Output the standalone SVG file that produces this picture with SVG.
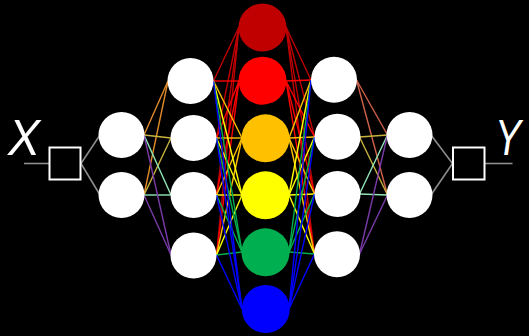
<svg xmlns="http://www.w3.org/2000/svg" width="529" height="336" viewBox="0 0 529 336">
<style>
.bg{fill:#000}
.n{fill:#fff}
.box{fill:none;stroke:#fff;stroke-width:2}
.e{stroke-width:1.4;fill:none}
.gr{stroke:#8c8c8c;stroke-width:1.6}
.c1{stroke:#e08a2a}.c2{stroke:#c8b43c}.c3{stroke:#90e8b8}.c4{stroke:#7a3aa8}.c0{stroke:#d0604a}
.dr{stroke:#c00000}.rd{stroke:#ff0000}.or{stroke:#ffc000}.ye{stroke:#ffff00}.gn{stroke:#00b050}.bl{stroke:#0000ff}
.lbl{font-family:"Liberation Sans",Arial,sans-serif;font-style:italic;font-size:50px;fill:#fff}
</style>
<rect class="bg" x="0" y="0" width="529" height="336"/>
<g id="connectors">
<line class="e gr" x1="24" y1="163.5" x2="49.5" y2="163.5"/>
<line class="e gr" x1="81" y1="163.5" x2="100" y2="135"/>
<line class="e gr" x1="81" y1="163.5" x2="100" y2="195"/>
<line class="e gr" x1="484.5" y1="163.5" x2="512.5" y2="163.5"/>
<line class="e gr" x1="431" y1="135" x2="452.5" y2="163.5"/>
<line class="e gr" x1="431" y1="195" x2="452.5" y2="163.5"/>
<line class="e c1" x1="144" y1="135" x2="168" y2="81"/>
<line class="e c1" x1="144" y1="195" x2="168" y2="81"/>
<line class="e c2" x1="144" y1="135" x2="171" y2="138"/>
<line class="e c2" x1="144" y1="195" x2="171" y2="138"/>
<line class="e c3" x1="144" y1="135" x2="171" y2="195"/>
<line class="e c3" x1="144" y1="195" x2="171" y2="195"/>
<line class="e c4" x1="144" y1="135" x2="171" y2="255"/>
<line class="e c4" x1="144" y1="195" x2="171" y2="255"/>
<line class="e c0" x1="356.5" y1="80" x2="387.5" y2="135"/>
<line class="e c0" x1="356.5" y1="80" x2="387.5" y2="195"/>
<line class="e c2" x1="359.5" y1="137" x2="387.5" y2="135"/>
<line class="e c2" x1="359.5" y1="137" x2="387.5" y2="195"/>
<line class="e c3" x1="359.5" y1="194" x2="387.5" y2="135"/>
<line class="e c3" x1="359.5" y1="194" x2="387.5" y2="195"/>
<line class="e c4" x1="359.5" y1="254" x2="387.5" y2="135"/>
<line class="e c4" x1="359.5" y1="254" x2="387.5" y2="195"/>
<line class="e dr" x1="213.5" y1="81" x2="239" y2="27"/>
<line class="e dr" x1="216.5" y1="138" x2="239" y2="27"/>
<line class="e dr" x1="216.5" y1="195" x2="239" y2="27"/>
<line class="e dr" x1="216.5" y1="255" x2="239" y2="27"/>
<line class="e dr" x1="286" y1="27" x2="311" y2="80"/>
<line class="e dr" x1="286" y1="27" x2="314.5" y2="137"/>
<line class="e dr" x1="286" y1="27" x2="314.5" y2="194"/>
<line class="e dr" x1="286" y1="27" x2="314.5" y2="254"/>
<line class="e rd" x1="213.5" y1="81" x2="239" y2="81"/>
<line class="e rd" x1="216.5" y1="138" x2="239" y2="81"/>
<line class="e rd" x1="216.5" y1="195" x2="239" y2="81"/>
<line class="e rd" x1="216.5" y1="255" x2="239" y2="81"/>
<line class="e rd" x1="286" y1="81" x2="311" y2="80"/>
<line class="e rd" x1="286" y1="81" x2="314.5" y2="137"/>
<line class="e rd" x1="286" y1="81" x2="314.5" y2="194"/>
<line class="e rd" x1="286" y1="81" x2="314.5" y2="254"/>
<line class="e or" x1="213.5" y1="81" x2="242" y2="138"/>
<line class="e or" x1="216.5" y1="138" x2="242" y2="138"/>
<line class="e or" x1="216.5" y1="195" x2="242" y2="138"/>
<line class="e or" x1="216.5" y1="255" x2="242" y2="138"/>
<line class="e or" x1="289" y1="138" x2="311" y2="80"/>
<line class="e or" x1="289" y1="138" x2="314.5" y2="137"/>
<line class="e or" x1="289" y1="138" x2="314.5" y2="194"/>
<line class="e or" x1="289" y1="138" x2="314.5" y2="254"/>
<line class="e ye" x1="213.5" y1="81" x2="242" y2="195"/>
<line class="e ye" x1="216.5" y1="138" x2="242" y2="195"/>
<line class="e ye" x1="216.5" y1="195" x2="242" y2="195"/>
<line class="e ye" x1="216.5" y1="255" x2="242" y2="195"/>
<line class="e ye" x1="289" y1="195" x2="311" y2="80"/>
<line class="e ye" x1="289" y1="195" x2="314.5" y2="137"/>
<line class="e ye" x1="289" y1="195" x2="314.5" y2="194"/>
<line class="e ye" x1="289" y1="195" x2="314.5" y2="254"/>
<line class="e gn" x1="213.5" y1="81" x2="242" y2="252"/>
<line class="e gn" x1="216.5" y1="138" x2="242" y2="252"/>
<line class="e gn" x1="216.5" y1="195" x2="242" y2="252"/>
<line class="e gn" x1="216.5" y1="255" x2="242" y2="252"/>
<line class="e gn" x1="289" y1="252" x2="311" y2="80"/>
<line class="e gn" x1="289" y1="252" x2="314.5" y2="137"/>
<line class="e gn" x1="289" y1="252" x2="314.5" y2="194"/>
<line class="e gn" x1="289" y1="252" x2="314.5" y2="254"/>
<line class="e bl" x1="213.5" y1="81" x2="242" y2="309"/>
<line class="e bl" x1="216.5" y1="138" x2="242" y2="309"/>
<line class="e bl" x1="216.5" y1="195" x2="242" y2="309"/>
<line class="e bl" x1="216.5" y1="255" x2="242" y2="309"/>
<line class="e bl" x1="289" y1="309" x2="311" y2="80"/>
<line class="e bl" x1="289" y1="309" x2="314.5" y2="137"/>
<line class="e bl" x1="289" y1="309" x2="314.5" y2="194"/>
<line class="e bl" x1="289" y1="309" x2="314.5" y2="254"/>
</g>
<g id="label-x"><text class="lbl" x="8" y="155" textLength="32" lengthAdjust="spacingAndGlyphs">X</text></g>
<g id="label-y"><text class="lbl" x="495" y="155" textLength="26" lengthAdjust="spacingAndGlyphs">Y</text></g>
<g id="box-in"><rect class="box" x="49.5" y="147.5" width="31" height="32"/></g>
<g id="box-out"><rect class="box" x="453" y="147.5" width="31.5" height="32"/></g>
<g id="in1"><circle class="n" cx="121.5" cy="135" r="23"/></g>
<g id="in2"><circle class="n" cx="121.5" cy="195" r="23"/></g>
<g id="h1a"><circle class="n" cx="190.5" cy="81" r="23"/></g>
<g id="h1b"><circle class="n" cx="193.5" cy="138" r="23"/></g>
<g id="h1c"><circle class="n" cx="193.5" cy="195" r="23"/></g>
<g id="h1d"><circle class="n" cx="193.5" cy="255.5" r="23"/></g>
<g id="m1"><circle cx="262.5" cy="27.5" r="24" fill="#c00000"/></g>
<g id="m2"><circle cx="262.5" cy="80.7" r="24" fill="#ff0000"/></g>
<g id="m3"><circle cx="265.5" cy="138.3" r="24" fill="#ffc000"/></g>
<g id="m4"><circle cx="265.5" cy="195.3" r="24" fill="#ffff00"/></g>
<g id="m5"><circle cx="265.5" cy="252.3" r="24" fill="#00b050"/></g>
<g id="m6"><circle cx="265.8" cy="309" r="24" fill="#0000ff"/></g>
<g id="h2a"><circle class="n" cx="334" cy="79.7" r="23"/></g>
<g id="h2b"><circle class="n" cx="337.5" cy="136.7" r="23"/></g>
<g id="h2c"><circle class="n" cx="337.5" cy="194" r="23"/></g>
<g id="h2d"><circle class="n" cx="337" cy="254.3" r="23"/></g>
<g id="out1"><circle class="n" cx="409.5" cy="135" r="23"/></g>
<g id="out2"><circle class="n" cx="409.5" cy="195" r="23"/></g>
</svg>
